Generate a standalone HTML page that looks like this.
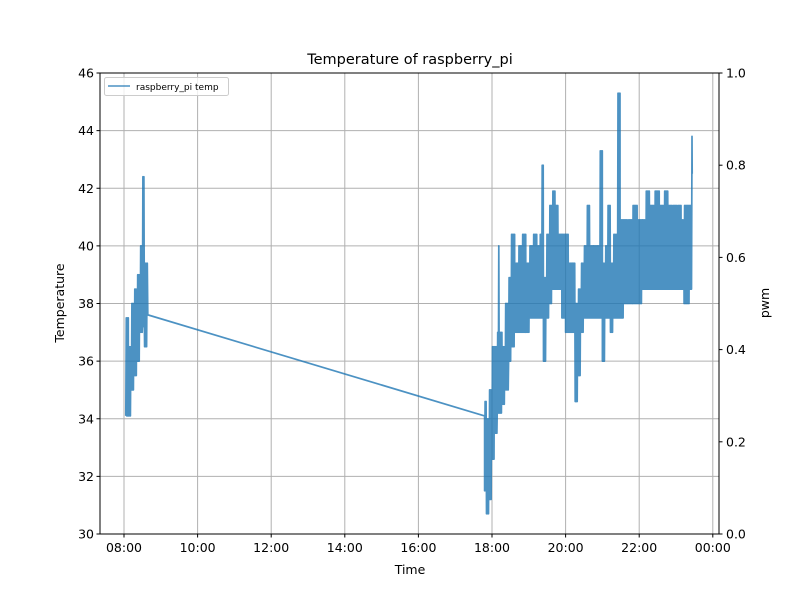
<!DOCTYPE html>
<html><head><meta charset="utf-8"><style>
html,body{margin:0;padding:0;background:#fff}
svg{display:block;font-family:"DejaVu Sans","Liberation Sans",sans-serif}
</style></head><body>
<svg id="chart" width="800" height="600">
<rect width="800" height="600" fill="#fff"/>
<g id="grid"></g>
<g id="series"></g>
<rect x="100" y="73" width="619" height="461" fill="none" stroke="#000" stroke-width="1"/>
<g id="axes"></g>
<text x="410" y="64" text-anchor="middle" font-size="14.5">Temperature of raspberry_pi</text>
<text x="410" y="574" text-anchor="middle" font-size="12.5">Time</text>
<text transform="translate(64,303) rotate(-90)" text-anchor="middle" font-size="12.5">Temperature</text>
<text transform="translate(769,303) rotate(-90)" text-anchor="middle" font-size="12.5">pwm</text>
<g>
<rect x="104.5" y="77.5" width="124" height="18" rx="2" fill="#fff" fill-opacity="0.8" stroke="#ccc"/>
<line x1="108" y1="86" x2="130" y2="86" stroke="#1f77b4" stroke-opacity="0.8" stroke-width="1.5"/>
<text x="136" y="90" font-size="9">raspberry_pi temp</text>
</g>
</svg>
<script>
const yTicks=[30,32,34,36,38,40,42,44,46];
const y2Ticks=[0,0.2,0.4,0.6,0.8,1.0];
const xTicks=[8,10,12,14,16,18,20,22,24];
const xTickLabels=["08:00","10:00","12:00","14:00","16:00","18:00","20:00","22:00","00:00"];
const morningTimes=[8.05,8.12,8.20,8.28,8.36,8.44,8.50,8.56,8.62];
const morningLows=[34.1,34.1,35.0,35.5,36.0,37.0,37.2,36.5,37.6];
const morningHighs=[37.5,36.5,38.0,38.5,39.0,40.0,42.4,39.4,39.4];
const gapEndTime=17.80, gapEndValue=34.1;
const eveningTimes=[17.80,17.85,17.92,18.00,18.08,18.14,18.17,18.20,18.28,18.36,18.45,18.52,18.62,18.72,18.82,18.92,19.02,19.12,19.22,19.30,19.35,19.40,19.48,19.56,19.64,19.72,19.80,19.90,20.00,20.08,20.18,20.26,20.34,20.42,20.50,20.58,20.66,20.76,20.86,20.93,21.00,21.08,21.14,21.22,21.30,21.36,21.41,21.48,21.58,21.70,21.82,21.95,22.08,22.18,22.30,22.42,22.55,22.68,22.80,22.92,23.04,23.14,23.22,23.30,23.38,23.42];
const eveningLows=[31.5,30.7,31.2,32.6,33.5,34.2,34.5,34.2,34.5,35.0,36.0,36.5,37.0,37.0,37.0,37.0,37.5,37.5,37.5,37.5,37.5,36.0,37.5,38.0,38.5,38.5,38.5,37.5,37.0,37.0,37.0,34.6,35.5,37.0,37.5,37.5,37.5,37.5,37.5,37.5,36.0,37.5,37.5,37.0,37.5,37.5,37.5,37.5,38.0,38.0,38.0,38.0,38.5,38.5,38.5,38.5,38.5,38.5,38.5,38.5,38.5,38.5,38.0,38.0,38.5,38.5];
const eveningHighs=[34.6,34.0,35.0,36.5,36.5,37.0,40.0,37.0,36.5,38.0,38.9,40.4,39.4,40.0,40.4,39.4,40.0,40.4,40.0,40.4,42.8,38.9,40.4,41.4,41.9,41.4,40.4,40.4,40.4,39.4,39.4,38.0,38.5,39.4,40.0,41.4,40.0,40.0,40.0,43.3,39.4,40.0,41.4,39.4,40.4,40.4,45.3,40.9,40.9,40.9,41.4,40.9,40.9,41.9,41.4,41.9,41.4,41.9,41.4,41.4,41.4,40.9,41.4,41.4,41.4,43.8];
const lastTime=23.44, lastValue=42.5;

const NS="http://www.w3.org/2000/svg";
const X0=100,X1=719,Y0=534,Y1=73;
const xs=h=>124+(h-8)*36.8;
const ys=v=>Y0-(v-30)/16*(Y0-Y1);
const y2s=v=>Y0-v*(Y0-Y1);
function mk(tag,attrs,parent){const e=document.createElementNS(NS,tag);for(const k in attrs)e.setAttribute(k,attrs[k]);parent.appendChild(e);return e;}
const grid=document.getElementById('grid'),axes=document.getElementById('axes');
yTicks.forEach(t=>{const y=ys(t);
 const g=mk('line',{x1:X0,x2:X1,y1:y,y2:y,stroke:'#b0b0b0','stroke-width':1},grid);
 
 
 mk('line',{x1:X0-3.5,x2:X0,y1:y,y2:y,stroke:'#000'},axes);
 const l=mk('text',{x:X0-6,y:y+4.5,'text-anchor':'end','font-size':12.5},axes);l.textContent=t;
 
 
});
y2Ticks.forEach(t=>{const y=y2s(t);
 mk('line',{x1:X1,x2:X1+3.5,y1:y,y2:y,stroke:'#000'},axes);
 const l=mk('text',{x:X1+7,y:y+4.5,'font-size':12.5},axes);l.textContent=t.toFixed(1);
 
 
});
xTicks.forEach((t,i)=>{const x=xs(t);
 const g=mk('line',{x1:x,x2:x,y1:Y0,y2:Y1,stroke:'#b0b0b0','stroke-width':1},grid);
 
 
 mk('line',{x1:x,x2:x,y1:Y0,y2:Y0+3.5,stroke:'#000'},axes);
 const l=mk('text',{x:x,y:Y0+18,'text-anchor':'middle','font-size':12.5},axes);l.textContent=xTickLabels[i];
 
 
});
function zig(times,lows,highs,endT,pts){
 for(let i=0;i<times.length;i++){
  const a=xs(times[i]),b=xs(i+1<times.length?times[i+1]:endT);
  let k=0;for(let x=a;x<b;x+=0.5,k++){pts.push([x,ys(k%2?highs[i]:lows[i])]);}
 }
}
const pts=[];
zig(morningTimes,morningLows,morningHighs,8.66,pts);
pts.push([xs(8.66),ys(37.6)]);
pts.push([xs(gapEndTime),ys(gapEndValue)]);
zig(eveningTimes,eveningLows,eveningHighs,lastTime,pts);
pts.push([xs(lastTime),ys(lastValue)]);
const line=mk('polyline',{points:pts.map(p=>p[0].toFixed(1)+','+p[1].toFixed(1)).join(' '),fill:'none',stroke:'#1f77b4','stroke-opacity':0.8,'stroke-width':1.7,'stroke-linejoin':'round'},document.getElementById('series'));


</script>
</body></html>
